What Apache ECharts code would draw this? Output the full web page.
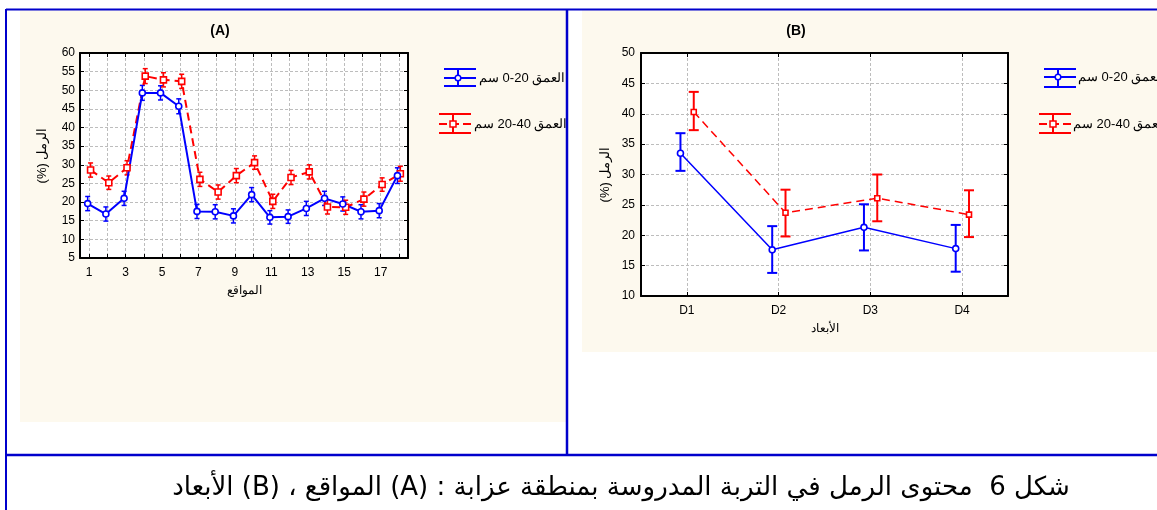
<!DOCTYPE html>
<html><head><meta charset="utf-8">
<script src="https://cdn.jsdelivr.net/npm/echarts@6/dist/echarts.min.js"></script>
<style>html,body{margin:0;padding:0;background:#fff}#c{width:1157px;height:510px}</style>
</head><body><div id="c"></div>
<script>
// ---------- DATA ----------
const sitesA = ['1','2','3','4','5','6','7','8','9','10','11','12','13','14','15','16','17','18'];
const siteNumsA = [1,2,3,4,5,6,7,8,9,10,11,12,13,14,15,16,17,18];
const blueA = [19.6,16.8,21.0,49.3,49.3,45.7,17.5,17.4,16.3,22.0,15.9,16.1,18.3,21.0,19.5,17.4,17.7,27.1];
const blueErrA = [1.9,1.9,1.9,2.0,1.9,2.0,1.9,1.9,1.9,1.9,1.8,1.8,1.9,1.9,1.9,1.9,1.9,2.1];
const redA = [28.6,25.2,29.2,53.8,52.8,52.4,26.1,22.7,27.1,30.6,20.2,26.6,28.1,18.7,18.6,20.8,24.7,27.6];
const redErrA = [1.9,1.8,1.9,2.0,1.9,1.9,1.9,1.9,1.9,1.8,1.9,1.9,1.9,1.9,1.9,1.9,1.8,2.0];
const yTicksA = [5,10,15,20,25,30,35,40,45,50,55,60];

const dimsB = ['D1','D2','D3','D4'];
const dimNumsB = [1,2,3,4];
const blueB = [33.5,17.6,21.3,17.8];
const blueLoB = [30.6,13.8,17.5,14.0];
const blueHiB = [36.8,21.5,25.1,21.7];
const redB = [40.3,23.7,26.1,23.4];
const redLoB = [37.3,19.8,22.3,19.7];
const redHiB = [43.6,27.5,30.0,27.4];
const yTicksB = [10,15,20,25,30,35,40,45,50];

const titleA = '(A)', titleB = '(B)';
const yName = 'الرمل (%)\u200F';
const xNameA = 'المواقع';
const xNameB = 'الأبعاد';
const legBlue = 'العمق 20-0 سم';
const legRed = 'العمق 40-20 سم';
const caption = 'شكل 6  محتوى الرمل في التربة المدروسة بمنطقة عزابة : (A) المواقع ، (B) الأبعاد';

// ---------- STYLE ----------
const BLUE = '#0000ff', RED = '#ff0000', BEIGE = '#fdf9ee', FRAME = '#0000cc';
const FONT = '"Liberation Sans", Arial, sans-serif';
const GRID_LINE = {show:true, lineStyle:{color:'#bdbdbd', width:1, type:[3,2]}};

function isInt(v){ return Math.abs(v - Math.round(v)) < 1e-6; }

function errSeries(name, xi, yi, xs, lo, hi, color, cap, width, z){
  return {
    type:'custom', name, xAxisIndex:xi, yAxisIndex:yi, z,
    data: xs.map((x,i)=>[x, lo[i], hi[i]]),
    encode:{x:0, y:[1,2]},
    renderItem:(params, api)=>{
      const x = api.value(0);
      const p1 = api.coord([x, api.value(2)]);
      const p2 = api.coord([x, api.value(1)]);
      const st = {stroke:color, lineWidth:width};
      return {type:'group', children:[
        {type:'line', shape:{x1:p1[0],y1:p1[1],x2:p2[0],y2:p2[1]}, style:st},
        {type:'line', shape:{x1:p1[0]-cap,y1:p1[1],x2:p1[0]+cap,y2:p1[1]}, style:st},
        {type:'line', shape:{x1:p2[0]-cap,y1:p2[1],x2:p2[0]+cap,y2:p2[1]}, style:st}
      ]};
    }
  };
}

function lineSeries(name, xi, yi, xs, ys, color, dashed, symbol, size, width){
  return {
    type:'line', name, xAxisIndex:xi, yAxisIndex:yi, z:5,
    data: xs.map((x,i)=>[x, ys[i]]),
    symbol, symbolSize:size, showSymbol:true, animation:false,
    lineStyle:{color, width, type: dashed ? [8,5] : 'solid'},
    itemStyle:{color:'#ffffff', borderColor:color, borderWidth:1.6}
  };
}

function legendGlyph(x0, x1, yT, yM, yB, color, dashed, marker){
  const xc = (x0 + x1) / 2 - 2;
  const st = {stroke:color, lineWidth:2};
  const ch = [
    {type:'line', shape:{x1:x0,y1:yT,x2:x1,y2:yT}, style:st},
    {type:'line', shape:{x1:x0,y1:yB,x2:x1,y2:yB}, style:st},
    {type:'line', shape:{x1:xc,y1:yT,x2:xc,y2:yB}, style:st},
    {type:'line', shape:{x1:x0,y1:yM,x2:x1,y2:yM}, style:{stroke:color, lineWidth:2, lineDash: dashed ? [8,4] : null}}
  ];
  if (marker === 'circle') ch.push({type:'circle', shape:{cx:xc, cy:yM, r:2.8}, style:{fill:'#fff', stroke:color, lineWidth:1.5}});
  else ch.push({type:'rect', shape:{x:xc-3, y:yM-3, width:6, height:6}, style:{fill:'#fff', stroke:color, lineWidth:1.5}});
  return {type:'group', children:ch, z:20};
}

const chart = echarts.init(document.getElementById('c'), null, {renderer:'canvas'});

const axisLineStyle = {show:true, onZero:false, lineStyle:{color:'#000', width:2}};
const tickIn = {show:true, inside:true, length:4, lineStyle:{color:'#000', width:1}};
const lbl = {color:'#000', fontSize:12, fontFamily:FONT};

const option = {
  animation:false,
  backgroundColor:'#ffffff',
  grid:[
    {left:80, top:53, width:328, height:205},
    {left:641, top:53, width:367, height:243}
  ],
  xAxis:[
    {gridIndex:0, type:'value', min:siteNumsA[0]-0.5, max:siteNumsA[siteNumsA.length-1]+0.5, splitNumber:18,
     axisLine:axisLineStyle, axisTick:tickIn, splitLine:GRID_LINE,
     axisLabel:Object.assign({margin:9, formatter:v => (isInt(v) && Math.round(v)%2===1) ? sitesA[Math.round(v)-1] : ''}, lbl),
     name:xNameA, nameLocation:'middle', nameGap:27, nameTextStyle:{color:'#000', fontSize:12}},
    {gridIndex:0, type:'value', position:'top', min:siteNumsA[0]-0.5, max:siteNumsA[siteNumsA.length-1]+0.5, splitNumber:18,
     axisLine:axisLineStyle, axisTick:tickIn, splitLine:{show:false}, axisLabel:{show:false}},
    {gridIndex:1, type:'value', min:dimNumsB[0]-0.5, max:dimNumsB[dimNumsB.length-1]+0.5, splitNumber:4,
     axisLine:axisLineStyle, axisTick:tickIn, splitLine:GRID_LINE,
     axisLabel:Object.assign({margin:9, formatter:v => isInt(v) && dimsB[Math.round(v)-1] ? dimsB[Math.round(v)-1] : ''}, lbl),
     name:xNameB, nameLocation:'middle', nameGap:27, nameTextStyle:{color:'#000', fontSize:12}},
    {gridIndex:1, type:'value', position:'top', min:dimNumsB[0]-0.5, max:dimNumsB[dimNumsB.length-1]+0.5, splitNumber:4,
     axisLine:axisLineStyle, axisTick:tickIn, splitLine:{show:false}, axisLabel:{show:false}}
  ],
  yAxis:[
    {gridIndex:0, type:'value', min:yTicksA[0], max:yTicksA[yTicksA.length-1], interval:yTicksA[1]-yTicksA[0],
     axisLine:axisLineStyle, axisTick:tickIn, splitLine:GRID_LINE, axisLabel:Object.assign({margin:5}, lbl),
     name:yName, nameLocation:'middle', nameGap:31, nameTextStyle:{color:'#000', fontSize:13}},
    {gridIndex:0, type:'value', position:'right', min:yTicksA[0], max:yTicksA[yTicksA.length-1], interval:yTicksA[1]-yTicksA[0],
     axisLine:axisLineStyle, axisTick:tickIn, splitLine:{show:false}, axisLabel:{show:false}},
    {gridIndex:1, type:'value', min:yTicksB[0], max:yTicksB[yTicksB.length-1], interval:yTicksB[1]-yTicksB[0],
     axisLine:axisLineStyle, axisTick:tickIn, splitLine:GRID_LINE, axisLabel:Object.assign({margin:6}, lbl),
     name:yName, nameLocation:'middle', nameGap:29, nameTextStyle:{color:'#000', fontSize:13}},
    {gridIndex:1, type:'value', position:'right', min:yTicksB[0], max:yTicksB[yTicksB.length-1], interval:yTicksB[1]-yTicksB[0],
     axisLine:axisLineStyle, axisTick:tickIn, splitLine:{show:false}, axisLabel:{show:false}}
  ],
  series:[
    errSeries('eb-blue-A', 0, 0, siteNumsA.map(x=>x-0.08), blueA.map((v,i)=>v-blueErrA[i]), blueA.map((v,i)=>v+blueErrA[i]), BLUE, 2.5, 1.5, 3),
    errSeries('eb-red-A', 0, 0, siteNumsA.map(x=>x+0.08), redA.map((v,i)=>v-redErrA[i]), redA.map((v,i)=>v+redErrA[i]), RED, 2.5, 1.5, 3),
    lineSeries('red-A', 0, 0, siteNumsA.map(x=>x+0.08), redA, RED, true, 'rect', 6, 2),
    lineSeries('blue-A', 0, 0, siteNumsA.map(x=>x-0.08), blueA, BLUE, false, 'circle', 6, 2),
    errSeries('eb-blue-B', 2, 2, dimNumsB.map(x=>x-0.07), blueLoB, blueHiB, BLUE, 5, 2, 3),
    errSeries('eb-red-B', 2, 2, dimNumsB.map(x=>x+0.075), redLoB, redHiB, RED, 5, 2, 3),
    lineSeries('red-B', 2, 2, dimNumsB.map(x=>x+0.075), redB, RED, true, 'rect', 5, 1.5),
    lineSeries('blue-B', 2, 2, dimNumsB.map(x=>x-0.07), blueB, BLUE, false, 'circle', 6, 1.5)
  ],
  graphic:[
    {type:'rect', shape:{x:20, y:10, width:546, height:412}, style:{fill:BEIGE}, z:-10, silent:true},
    {type:'rect', shape:{x:582, y:10, width:600, height:342}, style:{fill:BEIGE}, z:-10, silent:true},
    {type:'rect', shape:{x:80, y:53, width:328, height:205}, style:{fill:'#fff'}, z:-9, silent:true},
    {type:'rect', shape:{x:641, y:53, width:367, height:243}, style:{fill:'#fff'}, z:-9, silent:true},
    {type:'text', x:220, y:31, style:{text:titleA, font:'bold 14px '+FONT, fill:'#000', textAlign:'center', textVerticalAlign:'middle'}, z:20},
    {type:'text', x:796, y:31, style:{text:titleB, font:'bold 14px '+FONT, fill:'#000', textAlign:'center', textVerticalAlign:'middle'}, z:20},
    legendGlyph(444, 476, 69, 78, 86, BLUE, false, 'circle'),
    legendGlyph(439, 471, 114, 124, 133, RED, true, 'rect'),
    {type:'text', x:479, y:78, style:{text:legBlue, font:'13px '+FONT, fill:'#000', textAlign:'left', textVerticalAlign:'middle'}, z:20},
    {type:'text', x:474, y:124, style:{text:legRed, font:'13px '+FONT, fill:'#000', textAlign:'left', textVerticalAlign:'middle'}, z:20},
    legendGlyph(1044, 1076, 69, 77, 87, BLUE, false, 'circle'),
    legendGlyph(1039, 1071, 114, 124, 133, RED, true, 'rect'),
    {type:'text', x:1078, y:77, style:{text:legBlue, font:'13px '+FONT, fill:'#000', textAlign:'left', textVerticalAlign:'middle'}, z:20},
    {type:'text', x:1073, y:124, style:{text:legRed, font:'13px '+FONT, fill:'#000', textAlign:'left', textVerticalAlign:'middle'}, z:20},
    {type:'rect', shape:{x:567, y:10, width:15, height:445}, style:{fill:'#fff'}, z:30, silent:true},
    {type:'line', shape:{x1:6, y1:9.5, x2:1157, y2:9.5}, style:{stroke:FRAME, lineWidth:2}, z:40},
    {type:'line', shape:{x1:6, y1:9, x2:6, y2:510}, style:{stroke:FRAME, lineWidth:2}, z:40},
    {type:'line', shape:{x1:567, y1:9, x2:567, y2:455}, style:{stroke:FRAME, lineWidth:2.5}, z:40},
    {type:'line', shape:{x1:6, y1:455, x2:1157, y2:455}, style:{stroke:FRAME, lineWidth:2.5}, z:40},
    {type:'text', x:621, y:488, style:{text:'\u202B' + caption + '\u202C', font:'26px "DejaVu Sans", sans-serif', fill:'#000', textAlign:'center', textVerticalAlign:'middle'}, z:20}
  ]
};
chart.setOption(option);
</script>
</body></html>
